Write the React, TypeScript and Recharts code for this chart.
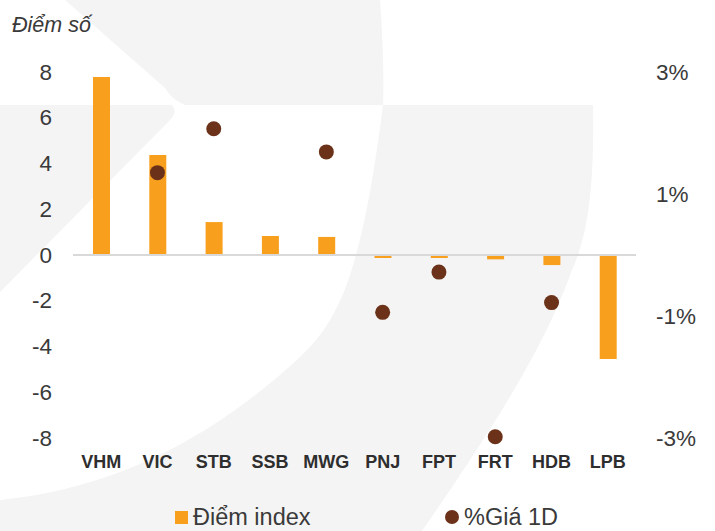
import React from 'react';
import { ComposedChart, Bar, Scatter, XAxis, YAxis, ReferenceLine, Legend } from 'recharts';

const categories = ['VHM', 'VIC', 'STB', 'SSB', 'MWG', 'PNJ', 'FPT', 'FRT', 'HDB', 'LPB'];
const indexPoints = [7.78, 4.37, 1.44, 0.83, 0.79, -0.13, -0.13, -0.19, -0.44, -4.55];
const pricePct: (number | null)[] = [null, 1.35, 2.07, null, 1.69, -0.94, -0.28, -2.98, -0.78, null];
const leftTicks = [-8, -6, -4, -2, 0, 2, 4, 6, 8];
const rightTicks = [-3, -1, 1, 3];

const data = categories.map((name, i) => ({ name, index: indexPoints[i], pct: pricePct[i] }));

const W = 715;
const H = 531;
const FONT = '"Liberation Sans", Arial, sans-serif';
const BAR = '#F8A01E';
const DOT = '#6B3219';
const TEXT = '#3a3a3a';

const LeftTick = (props: any) => (
  <text x={52} y={props.y} textAnchor="end" dominantBaseline="central" fontSize={22.5} fill={TEXT} fontFamily={FONT}>
    {props.payload.value}
  </text>
);

const RightTick = (props: any) => (
  <text x={656} y={props.y} textAnchor="start" dominantBaseline="central" fontSize={22.5} fill={TEXT} fontFamily={FONT}>
    {props.payload.value}%
  </text>
);

const CatTick = (props: any) => (
  <text x={props.x} y={462} textAnchor="middle" dominantBaseline="central" fontSize={18} fontWeight="bold" fill="#2e2e2e" fontFamily={FONT}>
    {props.payload.value}
  </text>
);

const DotShape = (props: any) => {
  if (props.payload == null || props.payload.pct == null) return <g />;
  return <circle cx={props.cx} cy={props.cy} r={7.5} fill={DOT} />;
};

const LegendBox = () => (
  <div style={{ position: 'relative', width: W, height: 30, fontFamily: FONT, fontSize: 23.5, color: TEXT }}>
    <div style={{ position: 'absolute', left: 175, top: 0, display: 'flex', alignItems: 'center', height: 30 }}>
      <span style={{ width: 13, height: 13, background: BAR, display: 'inline-block', marginRight: 5 }} />
      <span>Điểm index</span>
    </div>
    <div style={{ position: 'absolute', left: 445, top: 0, display: 'flex', alignItems: 'center', height: 30 }}>
      <span style={{ width: 14, height: 14, borderRadius: 7, background: DOT, display: 'inline-block', marginRight: 5 }} />
      <span>%Giá 1D</span>
    </div>
  </div>
);

// faint watermark shapes behind the plot
const Watermark = () => (
  <svg width={W} height={H} style={{ position: 'absolute', left: 0, top: 0 }}>
    <path d="M65,0 L380,0 C383,40 384,80 383,105 L185,105 Q172,100 165,88 Z" fill="#f4f4f4" />
    <path d="M0,105 L172,105 Q178,112 170,120 L0,292 Z" fill="#f4f4f4" />
    <path
      d="M383,105 L593,105 C594,180 590,230 572,270 C550,330 520,390 422,531 L0,531 L0,500 C100,490 200,450 300,357 C340,320 362,270 383,105 Z"
      fill="#f4f4f4"
    />
  </svg>
);

export default function App() {
  return (
    <div style={{ position: 'absolute', left: 0, top: 0, width: W, height: H, background: '#fff', overflow: 'hidden' }}>
      <Watermark />
      <div style={{ position: 'absolute', left: 12, top: 13, fontFamily: FONT, fontSize: 21.5, fontStyle: 'italic', color: TEXT }}>
        Điểm số
      </div>
      <div style={{ position: 'absolute', left: 0, top: 0 }}>
        <ComposedChart width={W} height={H} data={data} margin={{ top: 72, right: 0, bottom: 0, left: 0 }}>
          <XAxis dataKey="name" height={93} axisLine={false} tickLine={false} tick={<CatTick />} interval={0} />
          <YAxis
            yAxisId="left"
            width={73}
            domain={[-8, 8]}
            ticks={leftTicks}
            axisLine={false}
            tickLine={false}
            tick={<LeftTick />}
            interval={0}
          />
          <YAxis
            yAxisId="right"
            orientation="right"
            width={79}
            domain={[-3, 3]}
            ticks={rightTicks}
            axisLine={false}
            tickLine={false}
            tick={<RightTick />}
            interval={0}
          />
          <ReferenceLine yAxisId="left" y={0} stroke="#d9d9d9" strokeWidth={2} />
          <Bar yAxisId="left" dataKey="index" fill={BAR} barSize={17} isAnimationActive={false} />
          <Scatter yAxisId="right" dataKey="pct" shape={<DotShape />} isAnimationActive={false} />
          <Legend
            verticalAlign="middle"
            layout="horizontal"
            content={<LegendBox />}
            wrapperStyle={{ position: 'absolute', top: 502, left: 0, width: W }}
          />
        </ComposedChart>
      </div>
    </div>
  );
}
